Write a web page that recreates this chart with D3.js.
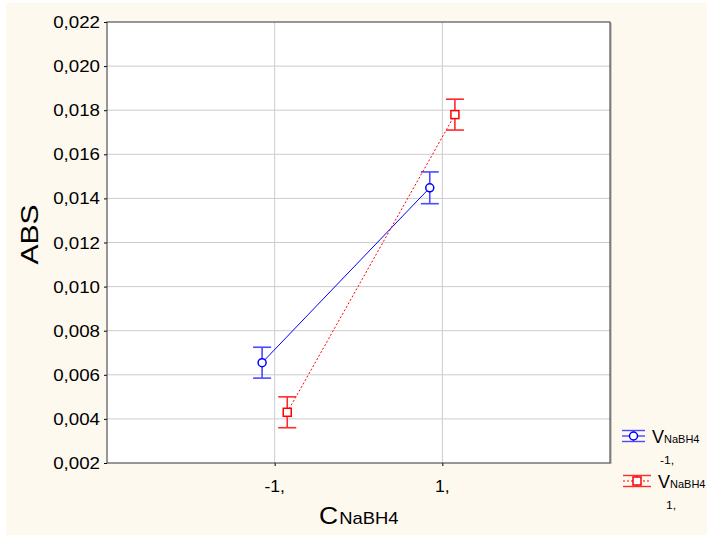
<!DOCTYPE html>
<html>
<head>
<meta charset="utf-8">
<script src="https://cdn.jsdelivr.net/npm/d3@7"></script>
<style>
	body { margin: 0; background: #fff; }
	text { font-family: Arial, 'Liberation Sans', sans-serif; fill: #000; }
</style>
</head>
<body>
<svg id="chart"></svg>
<script>
// x levels of C NaBH4 and their labels
const xLevels = [-1, 1];
const xLabels = ['-1,', '1,'];

// series: V NaBH4 = -1, and V NaBH4 = 1,
const seriesLevels = ['-1,', '1,'];
const blueMeans = [0.00655, 0.01448];
const blueErrors = [0.0007, 0.00072];
const redMeans = [0.0043, 0.0178];
const redErrors = [0.0007, 0.0007];

const yTicks = [0.002, 0.004, 0.006, 0.008, 0.010, 0.012, 0.014, 0.016, 0.018, 0.020, 0.022];

const config = {
	width: 707,
	height: 538,
	plot: { left: 107, top: 22, right: 610, bottom: 463 },
	bg: '#fef9ef',
	grid: '#cccccc',
	blue: '#0000ff',
	blueBar: '#4a4aff',
	red: '#ff0000',
	redBar: '#ff2a2a'
};

// text helper: stretch glyphs horizontally a bit, the source font is wide
function label(g, x, y, str, size, anchor, sx) {
	return g.append('text')
		.attr('transform', `translate(${x},${y}) scale(${sx || 1.18},1)`)
		.attr('text-anchor', anchor || 'start')
		.style('font-size', size + 'px')
		.text(str);
}

const svg = d3.select('#chart')
	.attr('width', config.width)
	.attr('height', config.height);

svg.append('rect')
	.attr('x', 6).attr('y', 3)
	.attr('width', 701).attr('height', 532)
	.attr('fill', config.bg);

const p = config.plot;
const x = d3.scaleLinear().domain([-3, 3]).range([p.left, p.right]);
const y = d3.scaleLinear().domain([0.002, 0.022]).range([p.bottom, p.top]);
const fmt = v => d3.format('.3f')(v).replace('.', ',');

svg.append('rect')
	.attr('x', p.left).attr('y', p.top)
	.attr('width', p.right - p.left).attr('height', p.bottom - p.top)
	.attr('fill', '#fff');

// grid
svg.append('g')
	.selectAll('line')
	.data(yTicks.slice(1, -1))
	.enter()
	.append('line')
	.attr('x1', p.left).attr('x2', p.right)
	.attr('y1', d => y(d)).attr('y2', d => y(d))
	.style('stroke', config.grid);

svg.append('g')
	.selectAll('line')
	.data(xLevels)
	.enter()
	.append('line')
	.attr('x1', d => x(d)).attr('x2', d => x(d))
	.attr('y1', p.top).attr('y2', p.bottom)
	.style('stroke', config.grid);

// axes
const yAxis = svg.append('g')
	.attr('transform', `translate(${p.left},0)`)
	.call(d3.axisLeft(y).tickValues(yTicks).tickSize(3).tickFormat(''));
const xAxis = svg.append('g')
	.attr('transform', `translate(0,${p.bottom})`)
	.call(d3.axisBottom(x).tickValues(xLevels).tickSize(3).tickFormat(''));
[yAxis, xAxis].forEach(a => {
	a.select('.domain').remove();
	a.selectAll('line').style('stroke', '#000');
});

// frame with a little shadow on the right
svg.append('line')
	.attr('x1', p.right + 1).attr('x2', p.right + 1)
	.attr('y1', p.top + 1).attr('y2', p.bottom + 1)
	.style('stroke', '#999');
svg.append('rect')
	.attr('x', p.left).attr('y', p.top)
	.attr('width', p.right - p.left).attr('height', p.bottom - p.top)
	.attr('fill', 'none')
	.style('stroke', '#333');

const tickLabels = svg.append('g');
yTicks.forEach(t => label(tickLabels, p.left - 7, y(t) + 6, fmt(t), 16, 'end', 1.17));
xLevels.forEach((t, i) => label(tickLabels, x(t), 492, xLabels[i], 16, 'middle', 1.1));

// titles
svg.append('text')
	.attr('transform', `translate(38,${(p.top + p.bottom) / 2 - 8}) rotate(-90) scale(1.25,1)`)
	.attr('text-anchor', 'middle')
	.style('font-size', '24px')
	.text('ABS');

const xt = svg.append('text')
	.attr('transform', `translate(319,524) scale(1.15,1)`)
	.style('font-size', '23px');
xt.append('tspan').text('C');
xt.append('tspan').style('font-size', '16px').attr('dx', 1).text('NaBH4');

// series
const series = [
	{ means: blueMeans, errors: blueErrors, off: -0.15, color: config.blue, bar: config.blueBar, dash: null, shape: 'circle' },
	{ means: redMeans, errors: redErrors, off: 0.15, color: config.red, bar: config.redBar, dash: '2,2', shape: 'square' }
];

function drawMarker(g, shape, cx, cy, color) {
	if (shape === 'circle') {
		g.append('circle').attr('cx', cx).attr('cy', cy).attr('r', 4)
			.attr('fill', '#fff').style('stroke', color).style('stroke-width', 1.5);
	} else {
		g.append('rect').attr('x', cx - 4).attr('y', cy - 4).attr('width', 8).attr('height', 8)
			.attr('fill', '#fff').style('stroke', color).style('stroke-width', 1.5);
	}
}

series.forEach(s => {
	const pts = xLevels.map((lv, i) => ({ x: lv + s.off, m: s.means[i], e: s.errors[i] }));
	const g = svg.append('g');

	g.append('path')
		.datum(pts)
		.attr('d', d3.line().x(d => x(d.x)).y(d => y(d.m)))
		.attr('fill', 'none')
		.style('stroke', s.color)
		.style('stroke-width', 1)
		.style('stroke-dasharray', s.dash);

	pts.forEach(d => {
		const cx = x(d.x);
		const bar = g.append('g').style('stroke', s.bar).style('stroke-width', 1.6);
		bar.append('line').attr('x1', cx).attr('x2', cx).attr('y1', y(d.m + d.e)).attr('y2', y(d.m - d.e));
		[d.m + d.e, d.m - d.e].forEach(v => {
			bar.append('line').attr('x1', cx - 9).attr('x2', cx + 9).attr('y1', y(v)).attr('y2', y(v));
		});
		drawMarker(g, s.shape, cx, y(d.m), s.color);
	});
});

// legend
const legendRows = [
	{ y: 436, x0: 622, w: 23, tx: 652, color: config.blue, bar: config.blueBar, dash: null, shape: 'circle', lvl: seriesLevels[0] },
	{ y: 481, x0: 623, w: 28, tx: 658, color: config.red, bar: config.redBar, dash: '2,2', shape: 'square', lvl: seriesLevels[1] }
];
legendRows.forEach(r => {
	const g = svg.append('g');
	const cx = r.x0 + r.w / 2;
	g.append('line').attr('x1', r.x0).attr('x2', r.x0 + r.w).attr('y1', r.y).attr('y2', r.y)
		.style('stroke', r.color).style('stroke-dasharray', r.dash);
	[r.y - 5.5, r.y + 5.5].forEach(v => {
		g.append('line').attr('x1', r.x0).attr('x2', r.x0 + r.w).attr('y1', v).attr('y2', v)
			.style('stroke', r.bar).style('stroke-width', 1.4);
	});
	g.append('line').attr('x1', cx).attr('x2', cx).attr('y1', r.y - 5.5).attr('y2', r.y + 5.5)
		.style('stroke', r.bar).style('stroke-width', 1.4);
	drawMarker(g, r.shape, cx, r.y, r.color);

	const t = g.append('text')
		.attr('transform', `translate(${r.tx},${r.y + 7})`)
		.style('font-size', '18px');
	t.append('tspan').text('V');
	t.append('tspan').style('font-size', '11px').text('NaBH4');
	label(g, r.tx + 8, r.y + 28, r.lvl, 11, 'start', 1.1);
});
</script>
</body>
</html>
